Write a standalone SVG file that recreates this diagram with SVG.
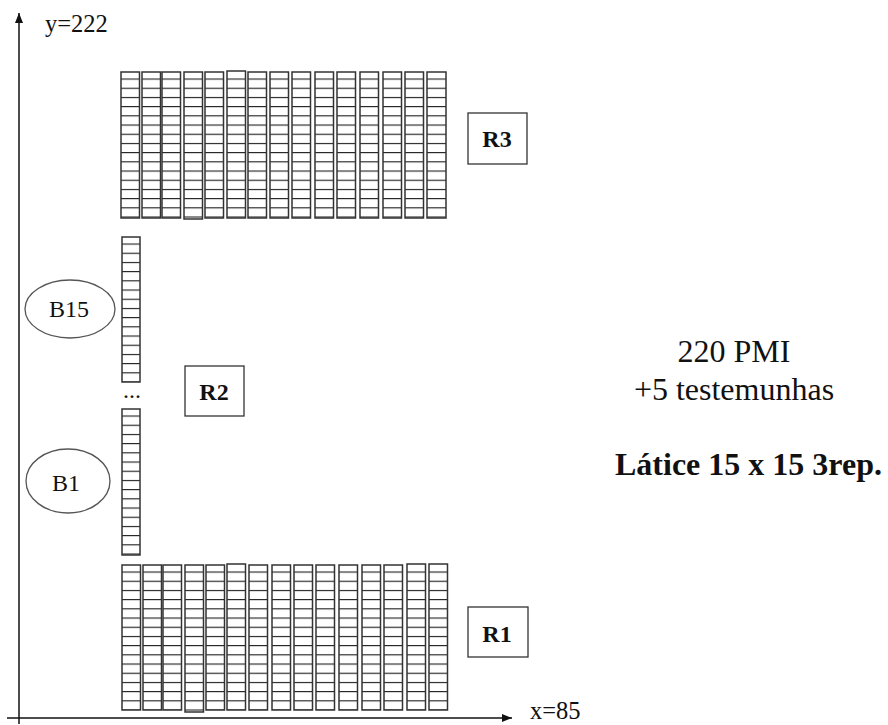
<svg xmlns="http://www.w3.org/2000/svg" width="888" height="725" viewBox="0 0 888 725">
<style>
.ax{stroke:#111;stroke-width:1.5;fill:none}
.col{stroke:#333;stroke-width:1.5}
.box{fill:#fff;stroke:#333;stroke-width:1.3}
.ell{fill:#fff;stroke:#555;stroke-width:1.3}
.t{font-family:"Liberation Serif","Times New Roman",serif;fill:#111}
.b{font-weight:bold}
</style>
<defs>
<marker id="arr" markerUnits="userSpaceOnUse" markerWidth="10" markerHeight="8" refX="10" refY="4" orient="auto">
<path d="M0,0 L10,4 L0,8 z" fill="#111"/>
</marker>
<pattern id="pR3" patternUnits="userSpaceOnUse" x="0" y="78.5" width="10" height="9.2"><rect x="0" y="0" width="10" height="1.1" fill="#1a1a1a"/></pattern>
<pattern id="pS1" patternUnits="userSpaceOnUse" x="0" y="243.5" width="10" height="9.2"><rect x="0" y="0" width="10" height="1.1" fill="#1a1a1a"/></pattern>
<pattern id="pS2" patternUnits="userSpaceOnUse" x="0" y="415.5" width="10" height="9.2"><rect x="0" y="0" width="10" height="1.1" fill="#1a1a1a"/></pattern>
<pattern id="pR1" patternUnits="userSpaceOnUse" x="0" y="571.5" width="10" height="9.2"><rect x="0" y="0" width="10" height="1.1" fill="#1a1a1a"/></pattern>
</defs>
<rect width="888" height="725" fill="#fff"/>

<g id="connectors">
<line class="ax" x1="19" y1="724" x2="19" y2="13" marker-end="url(#arr)"/>
<line class="ax" x1="7" y1="718" x2="512" y2="718" marker-end="url(#arr)"/>
</g>

<g id="axis-labels">
<text class="t" x="45" y="32" font-size="24.5">y=222</text>
<text class="t" x="530" y="719" font-size="24.5">x=85</text>
</g>

<g id="rep3-grid" fill="url(#pR3)">
<rect class="col" x="121" y="72" width="18.5" height="146"/>
<rect class="col" x="142" y="72" width="18.5" height="146"/>
<rect class="col" x="162" y="72" width="18.5" height="146"/>
<rect class="col" x="184" y="72" width="18.5" height="147"/>
<rect class="col" x="205" y="72" width="18.5" height="146"/>
<rect class="col" x="227" y="71" width="18.5" height="147"/>
<rect class="col" x="248" y="72" width="18.5" height="146"/>
<rect class="col" x="270" y="72" width="18.5" height="146"/>
<rect class="col" x="292" y="72" width="18.5" height="146"/>
<rect class="col" x="315" y="72" width="18.5" height="146"/>
<rect class="col" x="337" y="72" width="18.5" height="146"/>
<rect class="col" x="360" y="72" width="18.5" height="146"/>
<rect class="col" x="383" y="72" width="18.5" height="146"/>
<rect class="col" x="405" y="72" width="18.5" height="146"/>
<rect class="col" x="427" y="72" width="19" height="146"/>
</g>

<g id="rep1-grid" fill="url(#pR1)">
<rect class="col" x="122" y="565" width="18.5" height="145"/>
<rect class="col" x="143" y="565" width="18.5" height="145"/>
<rect class="col" x="163" y="565" width="18.5" height="145"/>
<rect class="col" x="185" y="565" width="18.5" height="147"/>
<rect class="col" x="206" y="565" width="18.5" height="145"/>
<rect class="col" x="227" y="564" width="18.5" height="146"/>
<rect class="col" x="249" y="565" width="18.5" height="145"/>
<rect class="col" x="272" y="565" width="18.5" height="145"/>
<rect class="col" x="294" y="565" width="18.5" height="145"/>
<rect class="col" x="316" y="565" width="18.5" height="145"/>
<rect class="col" x="339" y="565" width="18.5" height="145"/>
<rect class="col" x="362" y="565" width="18.5" height="145"/>
<rect class="col" x="384" y="565" width="18.5" height="145"/>
<rect class="col" x="407" y="564" width="18.5" height="146"/>
<rect class="col" x="429" y="564" width="18.5" height="146"/>
</g>

<g id="rep2-blocks">
<rect class="col" x="122" y="237" width="18" height="145" fill="url(#pS1)"/>
<text class="t" x="123" y="398" font-size="24">...</text>
<rect class="col" x="122" y="409" width="18" height="146" fill="url(#pS2)"/>
</g>

<g id="B15">
<ellipse class="ell" cx="70" cy="309" rx="45" ry="29"/>
<text class="t" x="69" y="317" font-size="24" text-anchor="middle">B15</text>
</g>

<g id="B1">
<ellipse class="ell" cx="68" cy="481" rx="42" ry="32"/>
<text class="t" x="66" y="491" font-size="24" text-anchor="middle">B1</text>
</g>

<g id="R3">
<rect class="box" x="468" y="113" width="59" height="51"/>
<text class="t b" x="497" y="147" font-size="24" text-anchor="middle">R3</text>
</g>

<g id="R2">
<rect class="box" x="185" y="366" width="59" height="50"/>
<text class="t b" x="214" y="400" font-size="24" text-anchor="middle">R2</text>
</g>

<g id="R1">
<rect class="box" x="468" y="607" width="60" height="50"/>
<text class="t b" x="497" y="642" font-size="24" text-anchor="middle">R1</text>
</g>

<g id="notes">
<text class="t" x="734" y="362" font-size="32" text-anchor="middle">220 PMI</text>
<text class="t" x="734" y="400" font-size="32" text-anchor="middle">+5 testemunhas</text>
<text class="t b" x="615" y="475" font-size="32">Látice 15 x 15 3rep.</text>
</g>
</svg>
